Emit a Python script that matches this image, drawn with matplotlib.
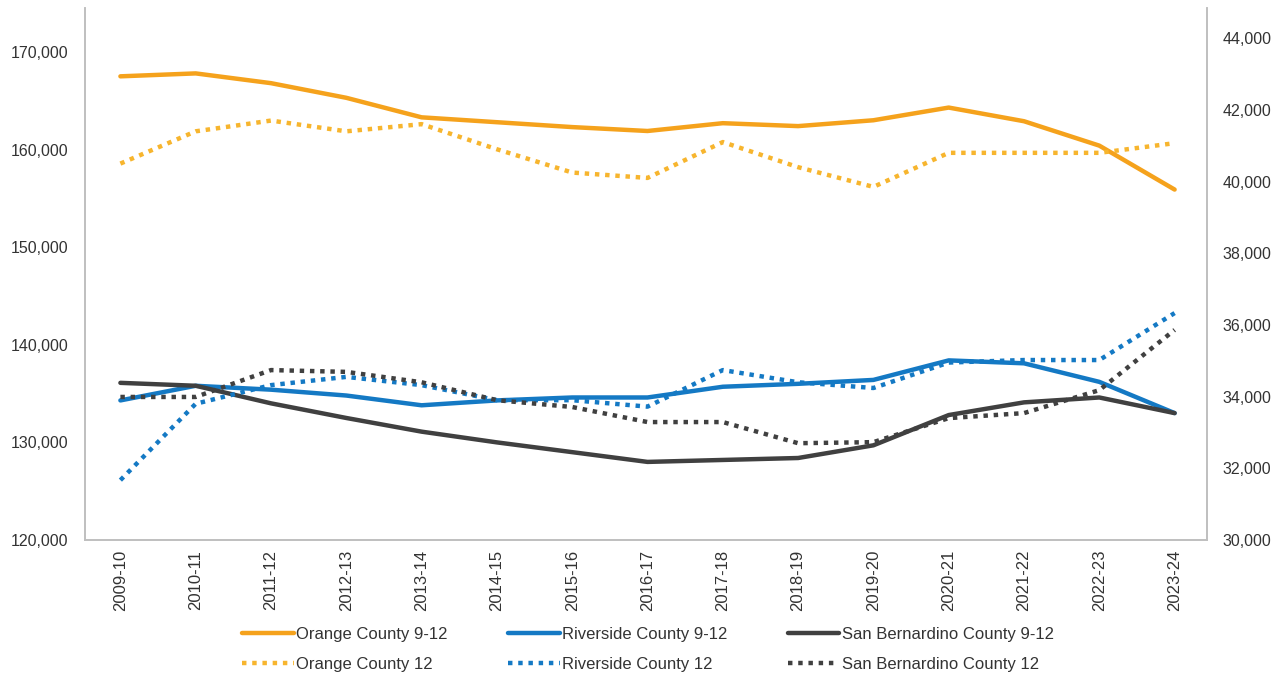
import matplotlib.pyplot as plt
from matplotlib.ticker import FuncFormatter

plt.rcParams['font.family'] = ['Liberation Sans', 'DejaVu Sans']

# ===================== 数据 =====================
years = ['2009-10', '2010-11', '2011-12', '2012-13', '2013-14', '2014-15', '2015-16',
         '2016-17', '2017-18', '2018-19', '2019-20', '2020-21', '2021-22', '2022-23', '2023-24']

# 9-12 年级（左轴）
orange_9_12 = [167500, 167800, 166800, 165300, 163300, 162800, 162300,
               161900, 162700, 162400, 163000, 164300, 162900, 160400, 155900]
riverside_9_12 = [134300, 135800, 135400, 134800, 133800, 134300, 134600,
                  134600, 135700, 136000, 136400, 138400, 138100, 136200, 133000]
sanbern_9_12 = [136100, 135800, 134000, 132500, 131100, 130000, 129000,
                128000, 128200, 128400, 129700, 132800, 134100, 134600, 133000]

# 12 年级（右轴）
orange_12 = [40500, 41400, 41700, 41400, 41600, 40900, 40250,
             40100, 41100, 40400, 39850, 40800, 40800, 40800, 41070]
riverside_12 = [31670, 33800, 34320, 34550, 34320, 33900, 33900,
                33720, 34740, 34400, 34240, 34950, 35020, 35020, 36330]
sanbern_12 = [33990, 33990, 34740, 34690, 34400, 33900, 33710,
              33290, 33290, 32700, 32730, 33400, 33540, 34180, 35860]

left_ticks = [120000, 130000, 140000, 150000, 160000, 170000]
right_ticks = [30000, 32000, 34000, 36000, 38000, 40000, 42000, 44000]

# ===================== 样式 =====================
C_ORANGE = '#F5A21C'
C_ORANGE_DOT = '#F7B52E'
C_BLUE = '#1479C4'
C_GRAY = '#404040'
DOT = (0, (1, 1.3))
TXT = '#333333'

fig = plt.figure(figsize=(12.84, 6.82), dpi=100)
ax = fig.add_axes([85 / 1284, 1 - 540 / 682, (1207 - 85) / 1284, (540 - 8) / 682])
ax2 = ax.twinx()

x = list(range(len(years)))
h1, = ax.plot(x, orange_9_12, color=C_ORANGE, lw=3.2, solid_capstyle='round')
h3, = ax.plot(x, riverside_9_12, color=C_BLUE, lw=3.2, solid_capstyle='round')
h5, = ax.plot(x, sanbern_9_12, color=C_GRAY, lw=3.2, solid_capstyle='round')
h2, = ax2.plot(x, orange_12, color=C_ORANGE_DOT, lw=3.2, linestyle=DOT)
h4, = ax2.plot(x, riverside_12, color=C_BLUE, lw=3.2, linestyle=DOT)
h6, = ax2.plot(x, sanbern_12, color=C_GRAY, lw=3.2, linestyle=DOT)

ax.set_xlim(-0.47, 14.43)
ax.set_ylim(120000, 174500)
ax2.set_ylim(30000, 44840)

fmt = FuncFormatter(lambda v, p: f'{int(v):,}')
ax.set_yticks(left_ticks)
ax2.set_yticks(right_ticks)
ax.yaxis.set_major_formatter(fmt)
ax2.yaxis.set_major_formatter(fmt)
ax.set_xticks(x)
ax.set_xticklabels(years, rotation=90)

ax.tick_params(axis='y', length=0, pad=12, labelsize=11.5, labelcolor=TXT)
ax2.tick_params(axis='y', length=0, pad=11, labelsize=11.5, labelcolor=TXT)
ax.tick_params(axis='x', length=0, pad=7, labelsize=12, labelcolor=TXT)

for a in (ax, ax2):
    for s in a.spines.values():
        s.set_color('#BFBFBF')
        s.set_linewidth(1.2)
    a.spines['top'].set_visible(False)

fig.legend([h1, h2, h3, h4, h5, h6],
           ['Orange County 9-12', 'Orange County 12', 'Riverside County 9-12',
            'Riverside County 12', 'San Bernardino County 9-12', 'San Bernardino County 12'],
           ncol=3, loc='center', bbox_to_anchor=(648 / 1284, 1 - 649 / 682),
           frameon=False, fontsize=12, handlelength=3.1, handletextpad=0.15,
           columnspacing=3.6, labelspacing=0.9, labelcolor=TXT,
           borderpad=0, borderaxespad=0)

fig.savefig('out.png', dpi=100)
